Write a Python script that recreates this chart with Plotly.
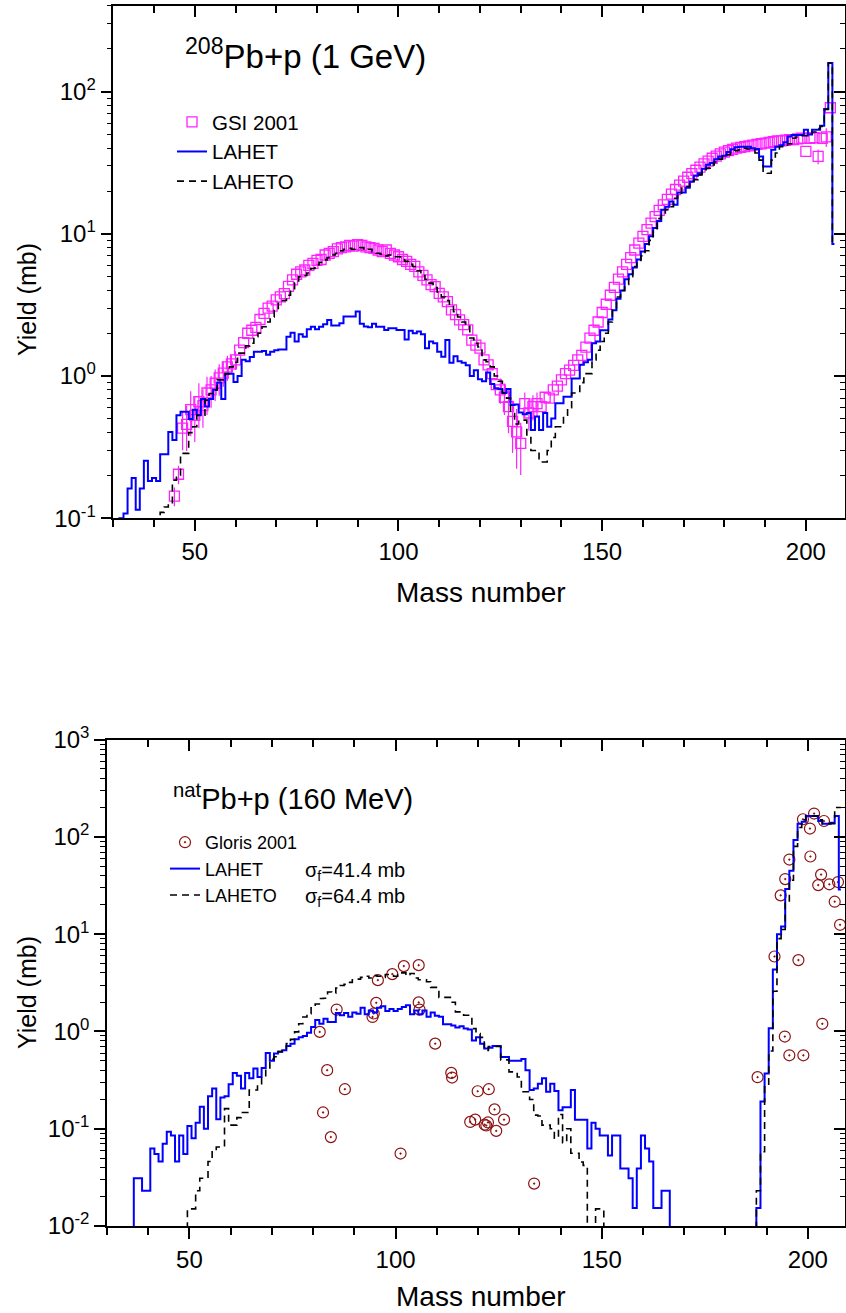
import plotly.graph_objects as go

# ---------------- data: top panel (208Pb+p, 1 GeV) ----------------
top_lahet_A = list(range(31, 208))
top_lahet_y = [
    0.01, 0.1, 0.108, 0.162, 0.192, 0.115, 0.162, 0.254, 0.183, 0.192,      # 31-40
    0.183, 0.282, 0.282, 0.405, 0.355, 0.531, 0.561, 0.561, 0.50, 0.58,     # 41-50
    0.53, 0.69, 0.61, 0.69, 0.80, 0.90, 0.69, 1.04, 1.04, 0.91,            # 51-60
    1.0, 1.30, 1.27, 1.36, 1.48, 1.48, 1.5, 1.41, 1.48, 1.52,              # 61-70
    1.54, 1.54, 1.89, 2.02, 1.75, 1.97, 1.89, 2.13, 2.22, 2.13,            # 71-80
    2.22, 2.31, 2.48, 2.27, 2.27, 2.35, 2.62, 2.62, 2.62, 2.84,            # 81-90
    2.33, 2.23, 2.2, 2.33, 2.22, 2.22, 2.11, 2.17, 2.17, 2.11,             # 91-100
    2.11, 1.81, 2.08, 2.0, 2.06, 1.97, 1.57, 1.75, 1.70, 1.48,             # 101-110
    1.37, 1.79, 1.24, 1.38, 1.27, 1.24, 1.19, 1.0, 1.1, 0.95,              # 111-120
    0.92, 1.06, 0.88, 0.82, 0.81, 0.76, 0.81, 0.625, 0.63, 0.555,          # 121-130
    0.54, 0.55, 0.417, 0.52, 0.417, 0.55, 0.44, 0.504, 0.643, 0.643,       # 131-140
    0.715, 0.715, 0.96, 0.96, 1.2, 1.25, 1.3, 1.7, 1.75, 2.1,              # 141-150
    2.1, 2.5, 2.9, 3.5, 4.0, 4.8, 5.2, 5.8, 6.6, 7.5,                      # 151-160
    8.5, 9.6, 11.0, 12.3, 14.8, 15.5, 16.9, 16.0, 19.5, 19.5,              # 161-170
    21.1, 23.3, 25.6, 26.7, 28.7, 30.6, 31.5, 33.5, 35, 35.4,              # 171-180
    37.7, 39.4, 40.6, 41, 41, 41, 40, 39.5, 35, 29.8,                      # 181-190
    29.8, 39, 41, 42, 44, 48.4, 49.6, 49.6, 49.6, 54,                      # 191-200
    50, 54, 54, 57.6, 75.5, 159, 8.5,                                      # 201-207
]

top_laheto_A = list(range(41, 208))
top_laheto_y = [
    0.05, 0.11, 0.12, 0.127, 0.185, 0.2, 0.286, 0.286, 0.40, 0.44,         # 41-50
    0.53, 0.53, 0.677, 0.755, 0.80, 0.94, 0.94, 1.04, 1.16, 1.25,          # 51-60
    1.45, 1.45, 1.63, 1.7, 1.89, 2.0, 2.22, 2.4, 2.6, 2.9,                 # 61-70
    3.25, 3.4, 3.7, 4.03, 4.5, 5.0, 5.1, 5.3, 5.7, 6.06,                   # 71-80
    6.3, 6.56, 6.8, 7.1, 7.3, 7.6, 7.8, 7.9, 7.8, 7.9,                     # 81-90
    8.0, 7.7, 7.8, 7.5, 7.3, 7.2, 7.0, 7.1, 6.9, 6.9,                      # 91-100
    6.6, 6.4, 6.1, 5.9, 5.5, 5.1, 4.8, 4.5, 4.2, 3.9,                      # 101-110
    3.6, 3.4, 3.1, 2.84, 2.6, 2.4, 2.25, 1.85, 1.7, 1.6,                   # 111-120
    1.3, 1.26, 1.16, 1.0, 0.92, 0.76, 0.7, 0.546, 0.46, 0.49,              # 121-130
    0.49, 0.37, 0.30, 0.30, 0.249, 0.249, 0.3, 0.37, 0.44, 0.44,           # 131-140
    0.53, 0.6, 0.76, 0.76, 0.9, 1.04, 1.04, 1.3, 1.52, 1.75,               # 141-150
    2.0, 2.4, 2.92, 3.6, 4.0, 4.4, 5.0, 5.9, 6.5, 7.0,                     # 151-160
    7.6, 9.0, 10.4, 12.8, 13.5, 14.8, 15.5, 17.8, 18.5, 21,                # 161-170
    21.5, 22.5, 24, 26, 27.5, 29, 30.5, 32, 33.5, 35,                      # 171-180
    36, 37.5, 38.5, 39, 40, 39.5, 39, 37, 33, 27,                          # 181-190
    26.7, 33, 37, 41, 42, 43, 47, 48, 49, 49,                              # 191-200
    50, 52, 55, 57, 75, 159, 8.5,                                          # 201-207
]

gsi_A = list(range(45, 207))
gsi_y = [
    0.143, 0.204, 0.43, 0.457, 0.58, 0.53,                                 # 45-50
    0.66, 0.62, 0.76, 0.80, 0.89, 0.97, 1.05, 1.16, 1.22, 1.3,             # 51-60
    1.52, 1.72, 2.0, 2.1, 2.2, 2.5, 2.76, 3.0, 3.1, 3.43,                  # 61-70
    3.6, 3.8, 4.27, 4.75, 5.2, 5.4, 5.57, 6.0, 6.2, 6.5,                   # 71-80
    6.6, 7.1, 7.3, 7.5, 7.85, 8.0, 8.1, 8.3, 8.2, 8.4,                     # 81-90
    8.3, 8.1, 8.0, 7.9, 7.7, 7.5, 7.7, 7.3, 7.1, 6.9,                      # 91-100
    6.6, 6.4, 6.1, 5.9, 5.4, 5.1, 4.75, 4.4, 4.26, 3.82,                   # 101-110
    3.6, 3.34, 2.92, 2.7, 2.48, 2.3, 2.11, 1.79, 1.65, 1.57,               # 111-120
    1.30, 1.2, 1.04, 0.87, 0.8, 0.71, 0.61, 0.48, 0.405, 0.336,            # 121-130
    0.64, 0.55, 0.61, 0.64, 0.61, 0.71, 0.7, 0.80, 0.85, 0.94,             # 131-140
    1.04, 1.1, 1.19, 1.3, 1.4, 1.6, 1.85, 2.1, 2.4, 2.8,                   # 141-150
    3.2, 3.7, 4.2, 4.8, 5.4, 6.1, 6.8, 7.7, 8.6, 9.6,                      # 151-160
    10.7, 11.9, 13.2, 14.6, 16.0, 17.5, 19, 20.5, 22, 23.5,                # 161-170
    25, 26.5, 28, 29.5, 31, 32.5, 34, 35.2, 36.5, 37.5,                    # 171-180
    38.5, 39.3, 40, 40.5, 41, 41.5, 42, 42.5, 43, 43.5,                    # 181-190
    44, 44.5, 45, 45, 45.5, 46, 46, 46.5, 47, 38,                          # 191-200
    47, 47.5, 35, 47, 48, 77,                                              # 201-206
]
# relative errors where the bars are visible outside the squares
gsi_rel_err = {45: 0.15, 46: 0.15, 47: 0.3, 48: 0.35, 49: 0.35, 50: 0.35, 51: 0.35,
               52: 0.3, 53: 0.3, 54: 0.25, 55: 0.25, 56: 0.25, 57: 0.2, 58: 0.2,
               59: 0.15, 60: 0.15, 125: 0.2, 126: 0.25, 127: 0.35, 128: 0.4,
               129: 0.45, 130: 0.4, 131: 0.2, 132: 0.25, 133: 0.2, 134: 0.2,
               203: 0.12, 205: 0.15}

# ---------------- data: bottom panel (natPb+p, 160 MeV) ----------------
bot_lahet_A = list(range(36, 168)) + list(range(187, 209))
bot_lahet_y = [
    0.001, 0.031, 0.031, 0.023, 0.023,                                     # 36-40
    0.0625, 0.055, 0.046, 0.070, 0.093, 0.085, 0.046, 0.085, 0.055, 0.107, # 41-50
    0.080, 0.115, 0.168, 0.10, 0.216, 0.26, 0.125, 0.21, 0.216, 0.287,     # 51-60
    0.375, 0.35, 0.26, 0.375, 0.33, 0.416, 0.34, 0.42, 0.60, 0.50,         # 61-70
    0.594, 0.62, 0.64, 0.71, 0.75, 0.83, 0.87, 0.90, 0.97, 1.11,           # 71-80
    1.31, 1.2, 1.35, 1.25, 1.25, 1.55, 1.47, 1.55, 1.42, 1.57,             # 81-90
    1.52, 1.75, 1.5, 1.64, 1.57, 1.75, 1.82, 1.62, 1.7, 1.62,              # 91-100
    1.7, 1.78, 1.86, 1.5, 1.64, 1.5, 1.64, 1.42, 1.57, 1.45,               # 101-110
    1.42, 1.19, 1.19, 1.15, 1.10, 1.13, 1.07, 1.05, 0.81, 0.87,            # 111-120
    0.75, 0.67, 0.68, 0.71, 0.71, 0.548, 0.548, 0.50, 0.50, 0.50,          # 121-130
    0.52, 0.40, 0.25, 0.26, 0.29, 0.33, 0.24, 0.29, 0.245, 0.155,          # 131-140
    0.166, 0.166, 0.25, 0.124, 0.124, 0.124, 0.0625, 0.115, 0.10, 0.085,   # 141-150
    0.085, 0.053, 0.085, 0.085, 0.039, 0.039, 0.031, 0.0153, 0.039, 0.085, # 151-160
    0.0625, 0.046, 0.0153, 0.0153, 0.023, 0.023, 0.001,                    # 161-167
    0.001, 0.0153, 0.191, 0.37, 1.08, 4.35, 10, 12, 29.2, 44.9,            # 187-196
    93.3, 137, 143, 164, 164, 164, 146, 137, 137, 140,                     # 197-206
    164, 28.8,                                                             # 207-208
]

bot_laheto_A = list(range(49, 152)) + list(range(187, 209))
bot_laheto_y = [
    0.001, 0.015,                                                          # 49-50
    0.015, 0.023, 0.031, 0.031, 0.046, 0.06, 0.065, 0.065, 0.161, 0.109,   # 51-60
    0.109, 0.13, 0.147, 0.147, 0.25, 0.25, 0.28, 0.33, 0.41, 0.52,         # 61-70
    0.55, 0.62, 0.65, 0.75, 0.83, 0.99, 1.2, 1.41, 1.52, 1.75,             # 71-80
    1.92, 2.18, 2.2, 2.55, 2.47, 2.8, 2.97, 3.05, 3.2, 3.4,                # 81-90
    3.45, 3.6, 3.7, 3.55, 3.75, 3.7, 3.6, 3.85, 3.75, 3.7,                 # 91-100
    3.85, 4.0, 3.75, 3.95, 3.55, 3.4, 3.4, 3.25, 2.84, 2.84,               # 101-110
    2.24, 2.24, 2.24, 2.0, 1.59, 1.59, 1.47, 1.47, 1.07, 0.95,             # 111-120
    0.87, 0.64, 0.70, 0.70, 0.70, 0.51, 0.51, 0.384, 0.384, 0.34,          # 121-130
    0.24, 0.24, 0.2, 0.138, 0.135, 0.109, 0.109, 0.10, 0.08, 0.14,         # 131-140
    0.072, 0.10, 0.056, 0.056, 0.0455, 0.042, 0.001, 0.001, 0.015, 0.015,  # 141-150
    0.001,                                                                 # 151
    0.001, 0.023, 0.058, 0.28, 0.63, 2.59, 9.0, 11.2, 21.6, 35.9,          # 187-196
    80, 125, 150, 164, 164, 164, 150, 137, 137, 137,                       # 197-206
    201, 201,                                                              # 207-208
]

gloris_A = [81.6, 83.4, 82.4, 84.3, 85.7, 87.7, 94.4, 94.7, 95.3, 95.7, 99.2, 101.2,
            102.0, 105.6, 105.6, 105.8, 109.6, 113.5, 113.7, 118.1, 119.3, 119.9,
            121.6, 122.0, 122.4, 122.6, 124.0, 124.4, 126.3, 133.6, 187.8, 191.9,
            193.4, 194.5, 195.5, 194.4, 195.5, 197.7, 198.8, 198.9, 200.5, 200.6,
            201.5, 202.5, 203.2, 203.5, 203.9, 205.2, 206.5, 207.3, 207.8]
gloris_y = [0.99, 0.40, 0.147, 0.082, 1.68, 0.255, 1.41, 1.53, 1.97, 3.37, 3.89, 0.0556,
            4.7, 4.81, 1.99, 1.68, 0.75, 0.375, 0.336, 0.1175, 0.124, 0.243,
            0.110, 0.108, 0.116, 0.255, 0.158, 0.095, 0.124, 0.0273, 0.339, 5.9,
            25.1, 36.9, 58.6, 0.887, 0.569, 5.42, 152, 0.569, 122, 63,
            174, 32, 41, 1.2, 146, 32.6, 21.6, 34.4, 12.5]

top_ytickvals = [0.1, 1, 10, 100]
top_yticktext = ["10<sup>-1</sup>", "10<sup>0</sup>", "10<sup>1</sup>", "10<sup>2</sup>"]
bot_ytickvals = [0.01, 0.1, 1, 10, 100, 1000]
bot_yticktext = ["10<sup>-2</sup>", "10<sup>-1</sup>", "10<sup>0</sup>", "10<sup>1</sup>",
                 "10<sup>2</sup>", "10<sup>3</sup>"]

# ---------------- layout geometry ----------------
W, H = 846, 1313
ML, MR, MT, MB = 107, 1, 6, 87
PW, PH = W - ML - MR, H - MT - MB


def fx(px):
    return (px - ML) / PW


def fy(py):
    return (H - MB - py) / PH


FONT = "Liberation Sans, Arial, sans-serif"
BLUE = "#0000ff"
MAG = "#ff22ff"
RED = "#8c1212"

gsi_err = [gsi_rel_err.get(a, 0.0) * v for a, v in zip(gsi_A, gsi_y)]

fig = go.Figure()

# top panel
fig.add_trace(go.Scatter(x=gsi_A, y=gsi_y, mode="markers", name="GSI 2001",
                         marker=dict(symbol="square-open", size=10, color=MAG, line=dict(width=1.3)),
                         error_y=dict(type="data", array=gsi_err, color=MAG, thickness=1.2, width=0),
                         xaxis="x", yaxis="y", legend="legend"))
fig.add_trace(go.Scatter(x=top_lahet_A, y=top_lahet_y, mode="lines", name="LAHET",
                         line=dict(color=BLUE, width=2, shape="hvh"),
                         xaxis="x", yaxis="y", legend="legend"))
fig.add_trace(go.Scatter(x=top_laheto_A, y=top_laheto_y, mode="lines", name="LAHETO",
                         line=dict(color="black", width=1.6, shape="hvh", dash="7px,5px"),
                         xaxis="x", yaxis="y", legend="legend"))

# bottom panel
fig.add_trace(go.Scatter(x=gloris_A, y=gloris_y, mode="markers", name="Gloris 2001",
                         marker=dict(symbol="circle-open-dot", size=11, color=RED, line=dict(width=1.2)),
                         xaxis="x2", yaxis="y2", legend="legend2"))
fig.add_trace(go.Scatter(x=bot_lahet_A, y=bot_lahet_y, mode="lines", name="LAHET",
                         line=dict(color=BLUE, width=2, shape="hvh"),
                         xaxis="x2", yaxis="y2", legend="legend2"))
fig.add_trace(go.Scatter(x=bot_laheto_A, y=bot_laheto_y, mode="lines", name="LAHETO",
                         line=dict(color="black", width=1.6, shape="hvh", dash="7px,5px"),
                         xaxis="x2", yaxis="y2", legend="legend2"))

# empty traces so the mirrored (inside-tick) axes are drawn
for xa, ya in [("x3", "y"), ("x", "y3"), ("x4", "y2"), ("x2", "y4")]:
    fig.add_trace(go.Scatter(x=[None], y=[None], xaxis=xa, yaxis=ya, showlegend=False,
                             hoverinfo="skip", mode="markers"))

top_xrange = [30, 209.6]
bot_xrange = [30, 209.0]
top_yrange = [-1, 2.602]
bot_yrange = [-2, 3]
top_dom = [fy(518.3), 1.0]
bot_dom = [0.0, fy(739.7)]

tickfont = dict(family=FONT, size=24, color="black")


def xax(rng, dom, anchor):
    return dict(range=rng, domain=dom, anchor=anchor, showgrid=False, zeroline=False,
                showline=True, linecolor="black", linewidth=1.5, mirror=True,
                ticks="outside", ticklen=11, tickwidth=1.5, tickcolor="black",
                tickmode="linear", tick0=0, dtick=50, tickfont=tickfont, automargin=False,
                minor=dict(ticks="outside", ticklen=7, tickwidth=1.5, tickcolor="black",
                           tick0=0, dtick=10, showgrid=False))


def yax(rng, dom, anchor, vals, text):
    return dict(type="log", range=rng, domain=dom, anchor=anchor, showgrid=False,
                zeroline=False, showline=True, linecolor="black", linewidth=1.5, mirror=True,
                ticks="outside", ticklen=11, tickwidth=1.5, tickcolor="black",
                tickmode="array", tickvals=vals, ticktext=text, tickfont=tickfont,
                automargin=False,
                minor=dict(ticks="outside", ticklen=5, tickwidth=1.2, tickcolor="black",
                           dtick="D1", showgrid=False))


def xmirror(rng, over, anchor):
    return dict(range=rng, overlaying=over, anchor=anchor, side="top", showgrid=False,
                zeroline=False, showline=False, showticklabels=False, automargin=False,
                ticks="inside", ticklen=11, tickwidth=1.5, tickcolor="black",
                tickmode="linear", tick0=0, dtick=50,
                minor=dict(ticks="inside", ticklen=7, tickwidth=1.5, tickcolor="black",
                           tick0=0, dtick=10, showgrid=False))


def ymirror(rng, over, anchor):
    return dict(type="log", range=rng, overlaying=over, anchor=anchor, side="right",
                showgrid=False, zeroline=False, showline=False, showticklabels=False,
                automargin=False,
                ticks="inside", ticklen=11, tickwidth=1.5, tickcolor="black",
                tickmode="linear", tick0=0, dtick=1,
                minor=dict(ticks="inside", ticklen=5, tickwidth=1.2, tickcolor="black",
                           dtick="D1", showgrid=False))


annotations = [
    dict(text="<sup>208</sup>Pb+p (1 GeV)", x=fx(183), y=fy(54), xref="paper", yref="paper",
         xanchor="left", yanchor="middle", showarrow=False, font=dict(family=FONT, size=33)),
    dict(text="<sup>nat</sup>Pb+p (160 MeV)", x=fx(171), y=fy(797), xref="paper", yref="paper",
         xanchor="left", yanchor="middle", showarrow=False, font=dict(family=FONT, size=29)),
    dict(text="σ<sub>f</sub>=41.4 mb", x=fx(303), y=fy(871), xref="paper", yref="paper",
         xanchor="left", yanchor="middle", showarrow=False, font=dict(family=FONT, size=20)),
    dict(text="σ<sub>f</sub>=64.4 mb", x=fx(303), y=fy(897), xref="paper", yref="paper",
         xanchor="left", yanchor="middle", showarrow=False, font=dict(family=FONT, size=20)),
    dict(text="Yield (mb)", x=fx(27), y=fy(300), xref="paper", yref="paper", textangle=-90,
         xanchor="center", yanchor="middle", showarrow=False, font=dict(family=FONT, size=25)),
    dict(text="Yield (mb)", x=fx(27), y=fy(993), xref="paper", yref="paper", textangle=-90,
         xanchor="center", yanchor="middle", showarrow=False, font=dict(family=FONT, size=25)),
    dict(text="Mass number", x=fx(481), y=fy(592), xref="paper", yref="paper",
         xanchor="center", yanchor="middle", showarrow=False, font=dict(family=FONT, size=28)),
    dict(text="Mass number", x=fx(481), y=fy(1296), xref="paper", yref="paper",
         xanchor="center", yanchor="middle", showarrow=False, font=dict(family=FONT, size=28)),
]

fig.update_layout(
    width=W, height=H, margin=dict(l=ML, r=MR, t=MT, b=MB, autoexpand=False),
    paper_bgcolor="white", plot_bgcolor="white",
    font=dict(family=FONT, color="black"),
    xaxis=xax(top_xrange, [fx(113.3), 1.0], "y"),
    yaxis=yax(top_yrange, top_dom, "x", top_ytickvals, top_yticktext),
    xaxis2=xax(bot_xrange, [0.0, 1.0], "y2"),
    yaxis2=yax(bot_yrange, bot_dom, "x2", bot_ytickvals, bot_yticktext),
    xaxis3=xmirror(top_xrange, "x", "y"),
    yaxis3=ymirror(top_yrange, "y", "x"),
    xaxis4=xmirror(bot_xrange, "x2", "y2"),
    yaxis4=ymirror(bot_yrange, "y2", "x2"),
    legend=dict(x=fx(172), y=fy(102), xanchor="left", yanchor="top",
                font=dict(family=FONT, size=20.5, color="black"), bgcolor="rgba(0,0,0,0)",
                tracegroupgap=0, traceorder="normal"),
    legend2=dict(x=fx(165), y=fy(824), xanchor="left", yanchor="top",
                 font=dict(family=FONT, size=18, color="black"), bgcolor="rgba(0,0,0,0)",
                 tracegroupgap=0, traceorder="normal"),
    annotations=annotations,
    showlegend=True,
)

fig.write_html(
    "out.html",
    config={"displayModeBar": False},
    post_script=(
        "document.documentElement.style.margin='0px';"
        "document.body.style.margin='0px';document.body.style.padding='0px';"
        "document.documentElement.style.overflow='hidden';"
        "var gd=document.getElementById('{plot_id}');"
        "gd.style.position='absolute';gd.style.left='0px';gd.style.top='0px';"
    ),
)
